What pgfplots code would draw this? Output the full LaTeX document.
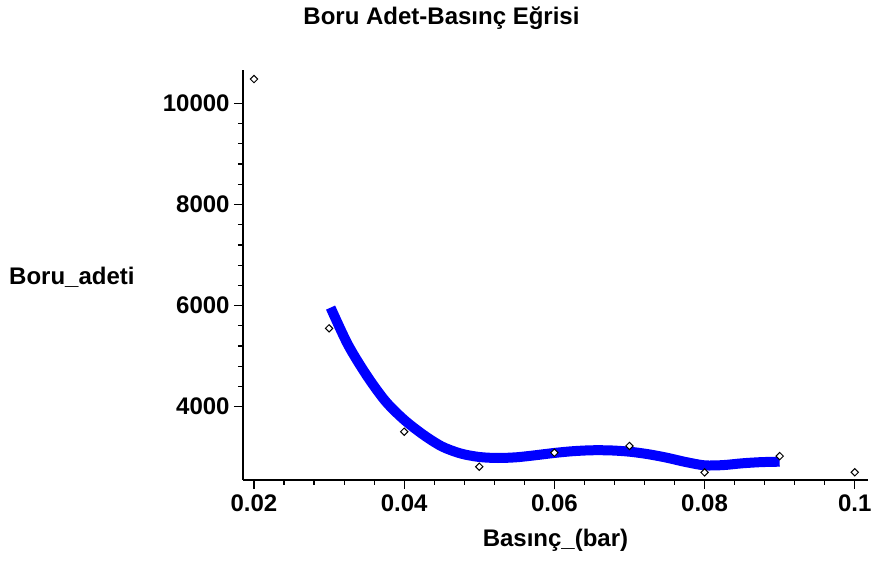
\documentclass[border=0pt]{standalone}
\usepackage{fontspec}
\setmainfont{Liberation Sans}
\usepackage{pgfplots}
\pgfplotsset{compat=1.18}

\newcommand\lab{\fontsize{12}{14}\selectfont\bfseries}

\begin{document}
\begin{tikzpicture}
\begin{axis}[
  name=ax,
  scale only axis,
  width=312.5pt, height=205pt,
  xmin=0.018535, xmax=0.10176,
  ymin=2550, ymax=10660,
  axis lines=left,
  axis line style={-, line width=0.6pt},
  tick align=outside,
  tick style={black, line width=0.6pt},
  major tick length=4.5pt,
  minor tick length=2.5pt,
  scaled ticks=false,
  xtick={0.02,0.04,0.06,0.08,0.1},
  xticklabels={0.02,0.04,0.06,0.08,0.1},
  ytick={4000,6000,8000,10000},
  yticklabels={4000,6000,8000,10000},
  minor x tick num=4,
  minor y tick num=4,
  ticklabel style={font=\lab},
  xticklabel style={anchor=north, inner sep=0pt, yshift=-2.5pt},
  yticklabel style={anchor=east, inner sep=0pt, xshift=-2pt},
  title={Boru Adet-Basınç Eğrisi},
  every axis title/.style={at={(rel axis cs:0.3176,1)}, anchor=base, yshift=22.5pt, inner sep=0pt, font=\lab},
  xlabel={Basınç\_(bar)},
  every axis x label/.style={at={(rel axis cs:0.5,0)}, anchor=base, yshift=-33.5pt, inner sep=0pt, font=\lab},
  ylabel={Boru\_adeti},
  every axis y label/.style={at={(rel axis cs:0,0.4756)}, anchor=base east, xshift=-54pt, inner sep=0pt, font=\lab},
]
% fitted curve
\addplot[smooth, color=blue, line width=5pt, line cap=butt] coordinates {
  (0.0302,5960) (0.0325,5230) (0.0350,4620) (0.0375,4110) (0.0400,3740)
  (0.0425,3450) (0.0450,3215) (0.0475,3075) (0.0500,3005) (0.0525,2985)
  (0.0550,3000) (0.0575,3040) (0.0600,3085) (0.0625,3120) (0.0650,3138)
  (0.0675,3135) (0.0700,3110) (0.0725,3060) (0.0750,2990) (0.0775,2905)
  (0.0800,2840) (0.0825,2845) (0.0850,2880) (0.0875,2903) (0.0900,2912)
};
% measured points
\addplot[only marks, mark=square*, mark size=1.3pt,
  mark options={rotate=45, fill=white, draw=black, line width=0.5pt}] coordinates {
  (0.02,10480) (0.03,5550) (0.04,3505) (0.05,2813) (0.06,3090)
  (0.07,3223) (0.08,2700) (0.09,3022) (0.1,2702)
};
\end{axis}
\pgfresetboundingbox
\path (ax.south west) ++(-121.5pt,-40.5pt) rectangle ++(437.5pt,280.5pt);
\end{tikzpicture}
\end{document}
